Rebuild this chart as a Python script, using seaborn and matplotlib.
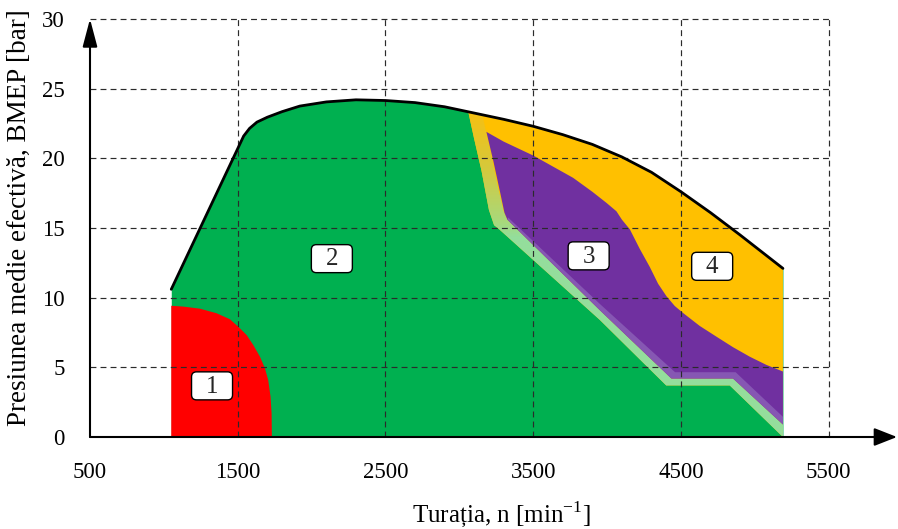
import numpy as np
import matplotlib
matplotlib.use("Agg")
import matplotlib.pyplot as plt
import seaborn as sns
from matplotlib.colors import LinearSegmentedColormap
from matplotlib.patches import Polygon, FancyBboxPatch

# Full-load BMEP envelope (speed in min^-1, BMEP in bar)
env_n = [1050, 1540, 1580, 1630, 1700, 1800, 1920, 2100, 2300, 2500, 2700, 2900,
         3100, 3300, 3500, 3700, 3900, 4100, 4300, 4400, 4500, 4700, 4900, 5190]
env_p = [10.6, 21.6, 22.15, 22.6, 22.95, 23.35, 23.75, 24.05, 24.2, 24.15, 24.0, 23.7,
         23.25, 22.8, 22.3, 21.7, 21.0, 20.1, 19.0, 18.3, 17.6, 16.1, 14.5, 12.1]

# Zone 1 boundary
z1_n = [1050, 1050, 1131, 1244, 1357, 1447, 1503, 1560, 1605, 1650, 1684, 1706, 1722, 1729, 1731]
z1_p = [0.0, 9.42, 9.36, 9.21, 8.88, 8.45, 7.92, 7.32, 6.60, 5.77, 4.93, 4.09, 2.89, 1.70, 0.0]

# Upper limit of zone 2 (lower edge of the transition strip)
g_n = [3060, 3100, 3150, 3200, 3235, 3265, 3951, 4400, 4830, 5190]
g_p = [23.35, 21.4, 19.1, 16.3, 15.2, 14.95, 8.4, 3.7, 3.7, 0.0]

# Upper edge of the transition strip
u_n = [3155, 3215, 3260, 3300, 3325, 3951, 4435, 4852, 5190]
u_p = [23.15, 20.3, 18.0, 16.2, 15.6, 9.1, 4.2, 4.2, 0.9]

# Zone 3 upper boundary (towards zone 4)
z3_top_n = [3183, 3300, 3500, 3770, 3900, 3996, 4063, 4100, 4154, 4221, 4289, 4345,
            4402, 4458, 4514, 4627, 4740, 4853, 4966, 5079, 5190]
z3_top_p = [21.9, 21.2, 20.2, 18.6, 17.6, 16.8, 16.2, 15.6, 14.9, 13.5, 12.2, 11.0,
            10.1, 9.4, 8.9, 7.97, 7.2, 6.44, 5.76, 5.17, 4.7]

# Zone 3 left edge (bottom to top)
z3_left_n = [3325, 3305, 3275, 3230, 3183]
z3_left_p = [15.6, 16.1, 17.6, 19.8, 21.9]

# Lighter fringe along the lower edge of zone 3
fr_n = [3330, 3951, 4460, 4870, 5190]
fr_p = [15.75, 9.55, 4.65, 4.65, 1.45]

zone_labels = ["1", "2", "3", "4"]
label_n = [1326, 2137, 3875, 4711]
label_p = [3.67, 12.8, 13.0, 12.25]

x_ticks = [500, 1500, 2500, 3500, 4500, 5500]
y_ticks = [0, 5, 10, 15, 20, 25, 30]

GREEN = "#00B050"
RED = "#FF0000"
ORANGE = "#FFC000"
PURPLE = "#7030A0"
FRINGE = "#8657B3"

sns.set_theme(style="white")
plt.rcParams["font.family"] = ["Liberation Serif", "DejaVu Serif"]
plt.rcParams["mathtext.fontset"] = "custom"
plt.rcParams["mathtext.rm"] = "Liberation Serif"

fig = plt.figure(figsize=(8.98, 5.29), dpi=100)
W, H = 898, 529
x0_px, y0_px, x1_px, y1_px = 90, 437, 897, 19
x_right = 5962
ax = fig.add_axes([x0_px / W, (H - y0_px) / H,
                   (x1_px - x0_px) / W, (y0_px - y1_px) / H])
ax.set_xlim(500, x_right)
ax.set_ylim(0, 30)
for s in ax.spines.values():
    s.set_visible(False)

# Zone 2: everything under the envelope
ax.fill_between(env_n, 0, env_p, color=GREEN, lw=0, zorder=1)

# Zone 4: between the envelope and the zone 2 limit
en = [g_n[0]] + [n for n in env_n if n > g_n[0]]
ep = list(np.interp(en, env_n, env_p))
poly4 = list(zip(en, ep)) + list(zip(g_n[::-1], g_p[::-1]))
ax.add_patch(Polygon(poly4, closed=True, fc=ORANGE, ec="none", zorder=2))

# Transition strip with a vertical colour gradient
strip_top = [(n, p) for n, p in zip(env_n, env_p) if g_n[0] < n < u_n[0]]
poly_s = list(zip(g_n, g_p)) + list(zip(u_n[::-1], u_p[::-1])) + strip_top[::-1]
strip = Polygon(poly_s, closed=True, fc="none", ec="none", zorder=3)
ax.add_patch(strip)
cmap = LinearSegmentedColormap.from_list(
    "strip", [(0.0, "#94DE9C"), (0.12, "#A8D97C"), (0.55, "#D5C93C"), (1.0, "#F6C012")])
yy = np.linspace(0, 24, 480)
vals = np.clip((yy - 14.3) / (23.3 - 14.3), 0, 1)[:, None]
im = ax.imshow(np.repeat(vals, 2, axis=1), cmap=cmap, vmin=0, vmax=1, origin="lower",
               extent=(3000, 5250, 0, 24), aspect="auto", zorder=3, interpolation="bilinear")
im.set_clip_path(strip)

# Zone 3
poly3 = (list(zip(z3_top_n, z3_top_p)) + [(u_n[-1], u_p[-1])]
         + [(n, p) for n, p in zip(u_n[::-1], u_p[::-1]) if n >= z3_left_n[0]]
         + list(zip(z3_left_n, z3_left_p)))
ax.add_patch(Polygon(poly3, closed=True, fc=PURPLE, ec="none", zorder=4))
poly_f = ([(n, p) for n, p in zip(u_n, u_p) if n >= z3_left_n[0]]
          + list(zip(fr_n[::-1], fr_p[::-1])))
ax.add_patch(Polygon(poly_f, closed=True, fc=FRINGE, ec="none", zorder=4))

# Zone 1
ax.fill(z1_n, z1_p, color=RED, lw=0, zorder=4)

# Dashed grid drawn over the zones
dash = (0, (5, 3.5))
ax.hlines(y_ticks[1:], x_ticks[0], x_ticks[-1], colors="#2b2b2b", lw=0.85,
          linestyles=dash, zorder=5, clip_on=False)
ax.vlines(x_ticks[1:], 0, y_ticks[-1], colors="#2b2b2b", lw=0.85,
          linestyles=dash, zorder=5, clip_on=False)

# Full-load envelope line
sns.lineplot(x=env_n, y=env_p, color="black", lw=2.0, ax=ax, zorder=6, sort=False)

# Axes with arrow heads
ax.annotate("", xy=(x_right, 0), xytext=(500, 0), annotation_clip=False,
            arrowprops=dict(arrowstyle="-|>,head_length=1.4,head_width=0.55",
                            mutation_scale=10, lw=1.5, color="black",
                            shrinkA=0, shrinkB=0), zorder=7)
ax.annotate("", xy=(500, 30), xytext=(500, 0), annotation_clip=False,
            arrowprops=dict(arrowstyle="-|>,head_length=1.7,head_width=0.45",
                            mutation_scale=10, lw=1.5, color="black",
                            shrinkA=0, shrinkB=0), zorder=7)

# Zone labels in rounded boxes (box size given in pixels)
px_x = (x_right - 500) / (x1_px - x0_px)   # data units per pixel, x
px_y = 30 / (y0_px - y1_px)                # data units per pixel, y
bw, bh = 41 * px_x, 28 * px_y
for lab, n, p in zip(zone_labels, label_n, label_p):
    ax.add_patch(FancyBboxPatch((n - bw / 2, p - bh / 2), bw, bh,
                                boxstyle="round,pad=0,rounding_size=%f" % (5 * px_x),
                                mutation_aspect=px_y / px_x,
                                fc="white", ec="black", lw=1.0, zorder=8))
    ax.text(n, p - 0.05, lab, ha="center", va="center", fontsize=18, zorder=9)

ax.set_xticks(x_ticks)
ax.set_xticklabels([str(t) for t in x_ticks])
ax.set_yticks(y_ticks)
ax.set_yticklabels([str(t) for t in y_ticks])
ax.tick_params(axis="both", length=0, labelsize=16.5, colors="black")
ax.tick_params(axis="x", pad=18)
ax.tick_params(axis="y", pad=18)

ax.set_xlabel("Turația, n [min$^{\\mathregular{-1}}$]", fontsize=18, color="black")
ax.set_ylabel("Presiunea medie efectivă, BMEP [bar]", fontsize=19.5, color="black")
ax.xaxis.set_label_coords((501 - x0_px) / (x1_px - x0_px), -(499 - y0_px) / (y0_px - y1_px))
ax.yaxis.set_label_coords((32 - x0_px) / (x1_px - x0_px), (y0_px - 218) / (y0_px - y1_px))

fig.savefig("out.png", dpi=100)
